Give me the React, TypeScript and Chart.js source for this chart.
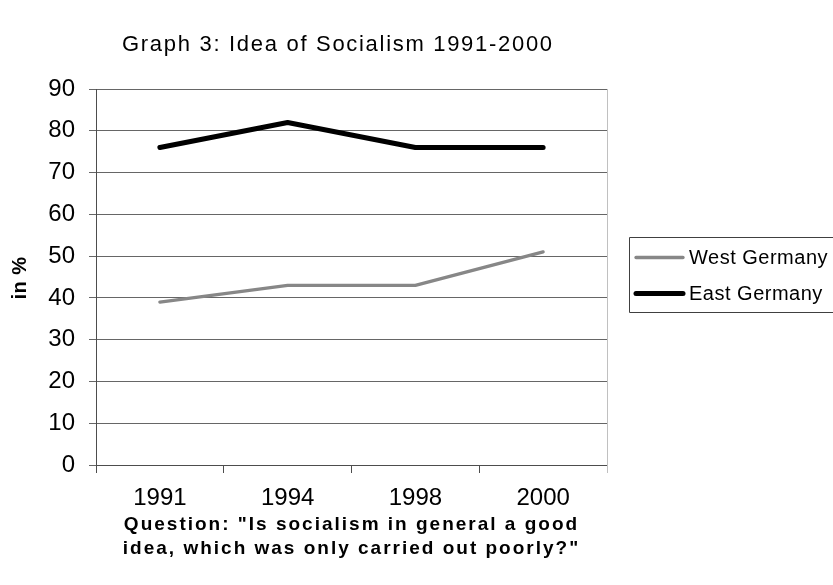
import { useEffect, useRef } from "react";
import { Chart, registerables } from "chart.js";

Chart.register(...registerables);

// Survey years and shares (in %) agreeing with the question
const years = ["1991", "1994", "1998", "2000"];
const westGermany = [39, 43, 43, 51];
const eastGermany = [76, 82, 76, 76];

const seriesNames = ["West Germany", "East Germany"];
const seriesColors = ["#878787", "#000000"];
const seriesWidths = [3.3, 5];

const yMin = 0;
const yMax = 90;
const yStep = 10;

const titleText = "Graph 3: Idea of Socialism 1991-2000";
const yAxisLabel = "in %";
const questionLines = [
  'Question: "Is socialism in general a good',
  'idea, which was only carried out poorly?"',
];

const FONT = "'Liberation Sans', Arial, Helvetica, sans-serif";

// Draws title, axis captions, the light right frame edge and the boxed legend
const decorations = {
  id: "decorations",
  afterDraw(chart: any) {
    const { ctx, chartArea, width } = chart;
    ctx.save();

    // light grey right edge of the plot frame
    ctx.strokeStyle = "#c0c0c0";
    ctx.lineWidth = 1;
    ctx.beginPath();
    ctx.moveTo(chartArea.right + 0.5, chartArea.top);
    ctx.lineTo(chartArea.right + 0.5, chartArea.bottom + 8);
    ctx.stroke();

    ctx.fillStyle = "#000";

    // title
    ctx.font = `22px ${FONT}`;
    (ctx as any).letterSpacing = "1.7px";
    ctx.textAlign = "left";
    ctx.textBaseline = "alphabetic";
    ctx.fillText(titleText, 122, 51);

    // question below the x axis
    ctx.font = `bold 19px ${FONT}`;
    (ctx as any).letterSpacing = "2px";
    ctx.textAlign = "center";
    const cx = (chartArea.left + chartArea.right) / 2;
    questionLines.forEach((line, i) => {
      ctx.fillText(line, cx, 530 + i * 24);
    });

    // y axis caption
    ctx.save();
    ctx.translate(20, 278);
    ctx.rotate(-Math.PI / 2);
    ctx.font = `bold 20px ${FONT}`;
    (ctx as any).letterSpacing = "0.5px";
    ctx.textAlign = "center";
    ctx.textBaseline = "middle";
    ctx.fillText(yAxisLabel, 0, 0);
    ctx.restore();

    // legend frame: open on the right, where it runs past the edge
    const boxLeft = 629.5;
    const boxTop = 237.5;
    const boxBottom = 312.5;
    ctx.strokeStyle = "#404040";
    ctx.lineWidth = 1;
    ctx.beginPath();
    ctx.moveTo(width + 2, boxTop);
    ctx.lineTo(boxLeft, boxTop);
    ctx.lineTo(boxLeft, boxBottom);
    ctx.lineTo(width + 2, boxBottom);
    ctx.stroke();

    ctx.font = `20px ${FONT}`;
    (ctx as any).letterSpacing = "0.5px";
    ctx.textAlign = "left";
    ctx.textBaseline = "middle";
    chart.data.datasets.forEach((ds: any, i: number) => {
      const y = boxTop + 20 + i * 36;
      ctx.strokeStyle = ds.borderColor;
      ctx.lineWidth = ds.borderWidth;
      ctx.lineCap = "round";
      ctx.beginPath();
      ctx.moveTo(636, y);
      ctx.lineTo(683, y);
      ctx.stroke();
      ctx.fillStyle = "#000";
      ctx.fillText(ds.label, 689, y + 1);
    });

    ctx.restore();
  },
};

export default function App() {
  const canvasRef = useRef<HTMLCanvasElement | null>(null);

  useEffect(() => {
    const canvas = canvasRef.current;
    if (!canvas) return;
    const series = [westGermany, eastGermany];
    const chart = new Chart(canvas, {
      type: "line",
      data: {
        labels: years,
        datasets: series.map((values, i) => ({
          label: seriesNames[i],
          data: values,
          borderColor: seriesColors[i],
          backgroundColor: seriesColors[i],
          borderWidth: seriesWidths[i],
          pointRadius: 0,
          pointHoverRadius: 0,
          borderCapStyle: "round",
          borderJoinStyle: "round",
          tension: 0,
          fill: false,
        })),
      },
      options: {
        responsive: false,
        animation: false,
        events: [],
        layout: { padding: { top: 89, right: 226, bottom: 0, left: 0 } },
        plugins: {
          legend: { display: false },
          title: { display: false },
          tooltip: { enabled: false },
        },
        scales: {
          x: {
            type: "category",
            offset: true,
            afterFit(scale: any) {
              scale.height = 120;
            },
            grid: {
              offset: true,
              drawOnChartArea: false,
              drawTicks: true,
              tickLength: 8,
              color: "#4d4d4d",
            },
            border: { display: true, color: "#4d4d4d", width: 1 },
            ticks: {
              color: "#000",
              padding: 11,
              font: { family: FONT, size: 24 },
              maxRotation: 0,
            },
          },
          y: {
            min: yMin,
            max: yMax,
            afterFit(scale: any) {
              scale.width = 96;
            },
            grid: {
              color: "#666666",
              drawTicks: true,
              tickLength: 7,
            },
            border: { display: true, color: "#4d4d4d", width: 1 },
            ticks: {
              stepSize: yStep,
              color: "#000",
              padding: 14,
              font: { family: FONT, size: 24 },
            },
          },
        },
      },
      plugins: [decorations],
    });
    return () => chart.destroy();
  }, []);

  return (
    <div style={{ position: "absolute", left: 0, top: 0, width: 833, height: 585, background: "#fff" }}>
      <canvas ref={canvasRef} width={833} height={585} />
    </div>
  );
}
